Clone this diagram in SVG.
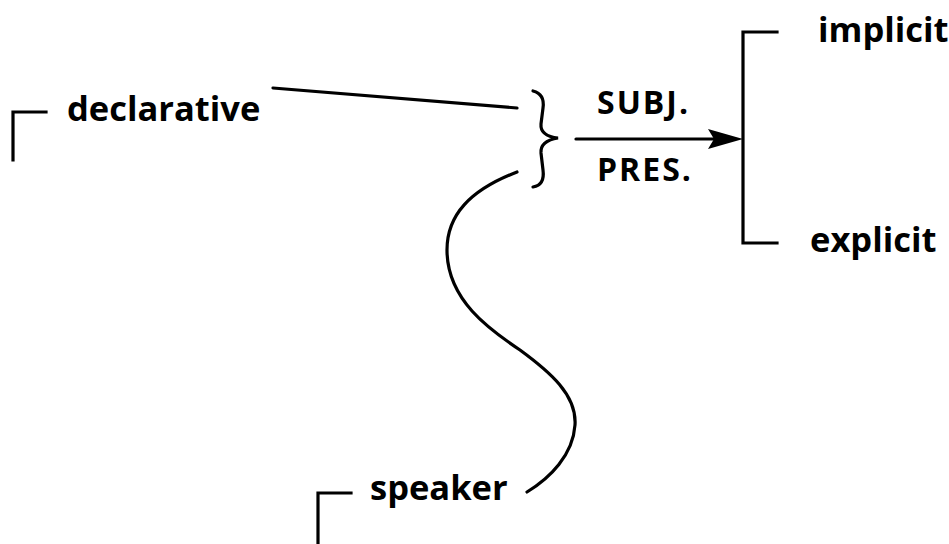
<svg xmlns="http://www.w3.org/2000/svg" width="949" height="544" viewBox="0 0 949 544">
  <style>
    .ln { fill: none; stroke: #000; stroke-width: 3.2; stroke-linecap: square; stroke-linejoin: miter; }
    .cv { fill: none; stroke: #000; stroke-width: 3.2; stroke-linecap: round; }
    .lbl { font-family: "Open Sans", "Noto Sans", "Liberation Sans", sans-serif; font-weight: bold; font-size: 34.5px; fill: #000; }
    .sm { font-family: "Open Sans", "Noto Sans", "Liberation Sans", sans-serif; font-weight: bold; font-size: 32px; letter-spacing: 2px; fill: #000; }
  </style>
  <rect width="949" height="544" fill="#fff"/>
  <g id="declarative">
    <path class="ln" d="M13,160 V112 H46"/>
    <text class="lbl" x="67" y="121">declarative</text>
  </g>
  <g id="speaker">
    <path class="ln" d="M318,546 V493 H351"/>
    <text class="lbl" x="370" y="500">speaker</text>
  </g>
  <g id="brace">
    <path class="cv" d="M533,91 Q545,94 543,108 L541,124 Q540,136 558,138 Q540,141 541,153 L543,170 Q545,185 533,187"/>
  </g>
  <g id="features">
    <text class="sm" x="597" y="114">SUBJ.</text>
    <text class="sm" x="597" y="181">PRES.</text>
  </g>
  <g id="options">
    <path class="ln" d="M777,32 H743 V243 H777"/>
    <text class="lbl" x="818" y="42">implicit</text>
    <text class="lbl" x="810" y="252">explicit</text>
  </g>
  <g id="connectors">
    <path class="cv" d="M273,88 L517,108"/>
    <path class="cv" d="M517,172 C470,190 447,215 447,250 C447,300 490,330 520,350 C550,372 577,395 575,425 C573,455 550,478 527,492"/>
    <path class="cv" d="M576,139 H720"/>
    <polygon points="743,139 708,129 714,139 708,149" fill="#000"/>
  </g>
</svg>
